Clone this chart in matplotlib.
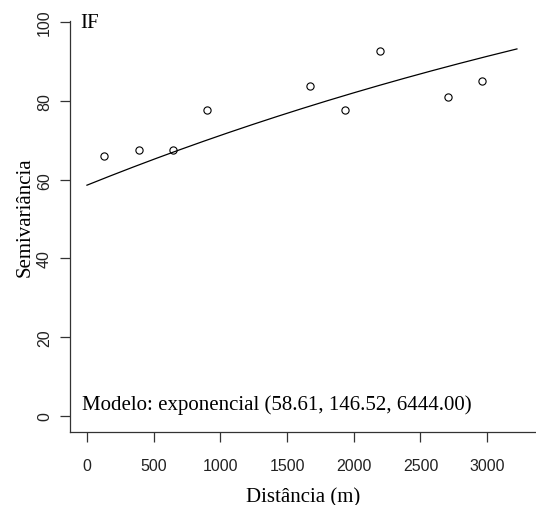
import numpy as np
import matplotlib.pyplot as plt

# empirical semivariogram (lag distance, semivariance)
dist = [130, 387, 645, 897, 1674, 1934, 2194, 2704, 2963]
semivar = [65.9, 67.5, 67.5, 77.6, 83.8, 77.6, 92.6, 81.0, 85.1]

# fitted exponential model: nugget, sill, range
nugget, sill, alcance = 58.61, 146.52, 6444.00
h_max = 3223

xticks = [0, 500, 1000, 1500, 2000, 2500, 3000]
yticks = [0, 20, 40, 60, 80, 100]

h = np.linspace(0, h_max, 300)
gamma = nugget + (sill - nugget) * (1 - np.exp(-h / alcance))

fig = plt.figure(figsize=(5.36, 5.06), dpi=100)
ax = fig.add_axes([70 / 536, 1 - 433 / 506, 1 - 70 / 536, (433 - 22) / 506])

ax.plot(dist, semivar, 'o', mfc='none', mec='black', ms=5.2, mew=0.8)
ax.plot(h, gamma, color='black', lw=0.9)

ax.set_xlim(-127, 3366)
ax.set_ylim(-4.06, 100.3)
ax.set_xticks(xticks)
ax.set_yticks(yticks)

for s in ['top', 'right']:
    ax.spines[s].set_visible(False)
for s in ['left', 'bottom']:
    ax.spines[s].set_color('#333333')
    ax.spines[s].set_linewidth(0.9)

ax.tick_params(length=7, width=0.9, color='#333333', labelsize=11.5,
               labelcolor='#222222')
ax.tick_params(axis='x', pad=11.5)
ax.tick_params(axis='y', pad=6)
for lab in ax.get_xticklabels() + ax.get_yticklabels():
    lab.set_fontfamily('Liberation Sans')
for lab in ax.get_yticklabels():
    lab.set_rotation(90)
    lab.set_va('center')

ax.set_xlabel('Distância (m)', family='Liberation Serif', fontsize=15, va='center')
ax.set_ylabel('Semivariância', family='Liberation Serif', fontsize=15, va='center')
ax.xaxis.set_label_coords(0.5, -0.157)
ax.yaxis.set_label_coords(-0.0966, 0.5255)

ax.text(-52, 100, 'IF', family='Liberation Serif', fontsize=15, va='center', ha='left')
ax.text(-37, 3, 'Modelo: exponencial (58.61, 146.52, 6444.00)',
        family='Liberation Serif', fontsize=15, va='center', ha='left')

fig.savefig('out.png', dpi=100)
